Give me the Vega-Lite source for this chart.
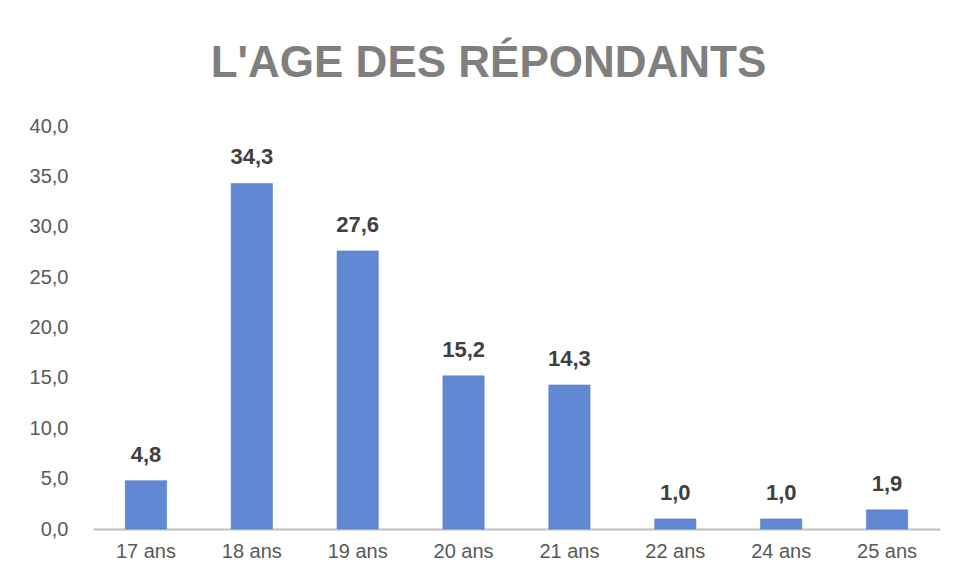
{
  "$schema": "https://vega.github.io/schema/vega-lite/v6.json",
  "width": 847,
  "height": 403,
  "autosize": {"type": "none"},
  "padding": {"left": 93, "top": 126, "right": 17, "bottom": 54},
  "background": "white",
  "config": {
    "view": {"stroke": null},
    "locale": {"number": {"decimal": ",", "thousands": " ", "grouping": [3], "currency": ["", " €"]}},
    "font": "Liberation Sans"
  },
  "title": {
    "text": "L'AGE DES RÉPONDANTS",
    "font": "Liberation Sans",
    "fontSize": 44,
    "fontWeight": "bold",
    "color": "#7f7f7f",
    "anchor": "middle",
    "frame": "group",
    "dx": -28,
    "offset": 30
  },
  "data": {
    "values": [
      {"age": "17 ans", "pct": 4.8},
      {"age": "18 ans", "pct": 34.3},
      {"age": "19 ans", "pct": 27.6},
      {"age": "20 ans", "pct": 15.2},
      {"age": "21 ans", "pct": 14.3},
      {"age": "22 ans", "pct": 1.0},
      {"age": "24 ans", "pct": 1.0},
      {"age": "25 ans", "pct": 1.9}
    ]
  },
  "encoding": {
    "x": {
      "field": "age",
      "type": "nominal",
      "sort": null,
      "scale": {"paddingInner": 0.61, "paddingOuter": 0.305},
      "axis": {
        "title": null,
        "labelAngle": 0,
        "labelFontSize": 20,
        "labelColor": "#595959",
        "labelPadding": 12,
        "ticks": false,
        "tickSize": 0,
        "domainColor": "#bfbfbf",
        "domainWidth": 2
      }
    },
    "y": {
      "field": "pct",
      "type": "quantitative",
      "scale": {"domain": [0, 40], "nice": false},
      "axis": {
        "title": null,
        "values": [0, 5, 10, 15, 20, 25, 30, 35, 40],
        "format": ".1f",
        "labelFontSize": 20,
        "labelColor": "#595959",
        "labelPadding": 25,
        "ticks": false,
        "tickSize": 0,
        "domain": false,
        "grid": false
      }
    }
  },
  "layer": [
    {"mark": {"type": "bar", "color": "#6189d3", "stroke": "#4472c4", "strokeWidth": 0.5}},
    {
      "mark": {"type": "text", "baseline": "alphabetic", "dy": -19, "fontSize": 22, "fontWeight": "bold", "color": "#404040"},
      "encoding": {"text": {"field": "pct", "type": "quantitative", "format": ".1f"}}
    }
  ]
}
